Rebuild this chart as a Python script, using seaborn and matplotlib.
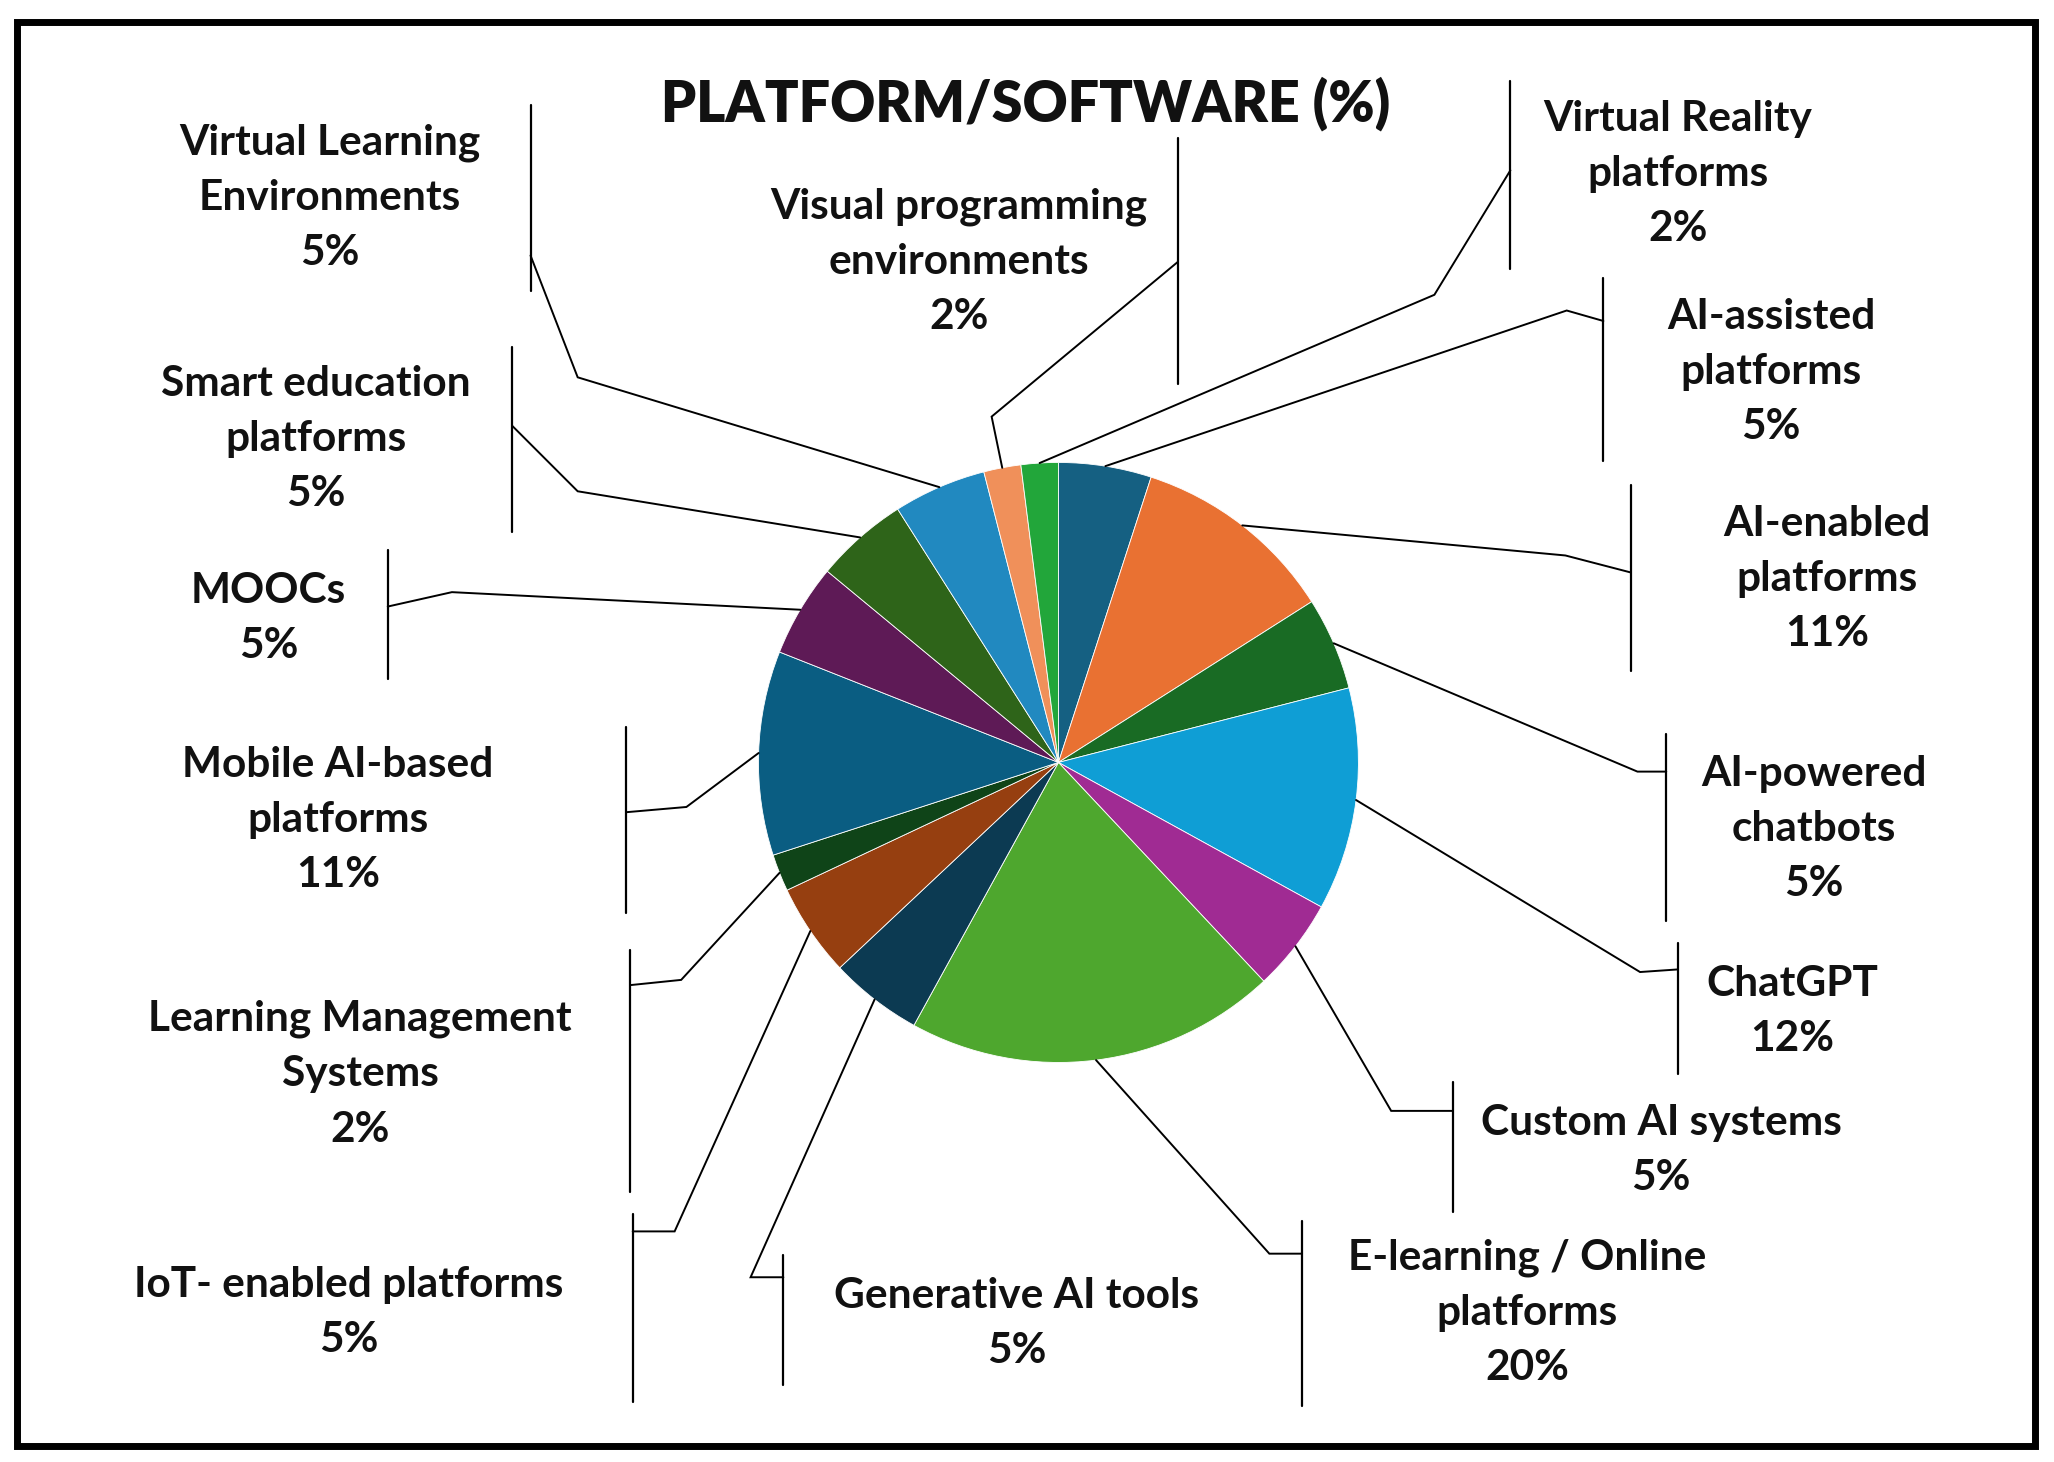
import matplotlib
matplotlib.use("Agg")
import matplotlib.pyplot as plt
import seaborn as sns
import numpy as np

# data, clockwise from 12 o'clock
platforms = ["AI-assisted platforms", "AI-enabled platforms", "AI-powered chatbots",
             "ChatGPT", "Custom AI systems", "E-learning / Online platforms",
             "Generative AI tools", "IoT- enabled platforms", "Learning Management Systems",
             "Mobile AI-based platforms", "MOOCs", "Smart education platforms",
             "Virtual Learning Environments", "Visual programming environments",
             "Virtual Reality platforms"]
shares = [5, 11, 5, 12, 5, 20, 5, 5, 2, 11, 5, 5, 5, 2, 2]
label_text = ["AI-assisted\nplatforms", "AI-enabled\nplatforms", "AI-powered\nchatbots",
              "ChatGPT", "Custom AI systems", "E-learning / Online\nplatforms",
              "Generative AI tools", "IoT- enabled platforms", "Learning Management\nSystems",
              "Mobile AI-based\nplatforms", "MOOCs", "Smart education\nplatforms",
              "Virtual Learning\nEnvironments", "Visual programming\nenvironments",
              "Virtual Reality\nplatforms"]
colors = ["#156082", "#E97132", "#196B24", "#0F9ED5", "#A02B93", "#4EA72E",
          "#0C3A52", "#963F10", "#0F4418", "#0A5D82", "#5E1A56", "#2E6419",
          "#2189C0", "#F0905A", "#22A63A"]
explode = [0.035 if s == 20 else 0 for s in shares]

# layout grid: pixels of a 1568x1116 preview (y grows downward)
W, H = 1568, 1116
CENTER, RADIUS = (808, 582), 229

# per label: text centre, bracket x, bracket y-range, elbow points of leader line
layout = [
    ((1352, 284), 1224, (212, 352), [(1196, 237), (1224, 245)]),
    ((1395, 442), 1245, (370, 512), [(1195, 424), (1245, 437)]),
    ((1385, 633), 1272, (560, 703), [(1250, 589), (1272, 589)]),
    ((1368, 772), 1281, (720, 820), [(1252, 742), (1281, 740)]),
    ((1268, 878), 1109, (826, 925), [(1062, 848), (1109, 848)]),
    ((1166, 1002), 994, (932, 1073), [(969, 957), (994, 957)]),
    ((776, 1010), 598, (958, 1057), [(573, 975), (598, 975)]),
    ((266, 1002), 483, (927, 1070), [(515, 940), (483, 940)]),
    ((275, 820), 481, (725, 910), [(520, 748), (481, 752)]),
    ((258, 626), 478, (555, 697), [(524, 616), (478, 620)]),
    ((205, 472), 296, (420, 518), [(345, 452), (296, 463)]),
    ((241, 335), 391, (265, 406), [(441, 375), (391, 325)]),
    ((252, 151), 405, (80, 222), [(441, 288), (405, 195)]),
    ((732, 200), 899, (105, 293), [(757, 318), (899, 200)]),
    ((1281, 133), 1153, (62, 205), [(1095, 225), (1153, 130)]),
]

sns.set_theme(style="white")
plt.rcParams['font.family'] = ['Lato', 'DejaVu Sans']

fig = plt.figure(figsize=(20.54, 14.62), dpi=100)
ax = fig.add_axes([0, 0, 1, 1])

# y axis is inverted below, so angle -90 points up and counterclock runs clockwise on screen
wedges, _ = ax.pie(shares, colors=colors, explode=explode, startangle=-90, counterclock=True,
                   center=CENTER, radius=RADIUS, frame=True,
                   wedgeprops=dict(edgecolor="white", linewidth=0.6))
ax.set_xlim(0, W)
ax.set_ylim(H, 0)
ax.set_aspect("equal")
ax.axis("off")

for name, val, txt, w, (pos, bx, (y0, y1), elbows) in zip(platforms, shares, label_text, wedges, layout):
    mid = np.deg2rad((w.theta1 + w.theta2) / 2)
    anchor = (w.center[0] + w.r * np.cos(mid), w.center[1] + w.r * np.sin(mid))
    pts = [anchor] + elbows
    ax.plot([p[0] for p in pts], [p[1] for p in pts], color="black", lw=1.4, solid_joinstyle="miter")
    ax.plot([bx, bx], [y0, y1], color="black", lw=1.6)
    ax.text(pos[0], pos[1], f"{txt}\n{val}%", ha="center", va="center", fontsize=30.5,
            fontweight="bold", linespacing=1.55, color="#111111")

ax.text(783, 79, "PLATFORM/SOFTWARE (%)", ha="center", va="center", fontsize=40,
        fontweight="heavy", color="#111111")

# outer frame
fig.patches.append(plt.Rectangle((16.5 / 2054, 1 - 1445.5 / 1462), (2035 - 16.5) / 2054, (1445.5 - 21.5) / 1462,
                                 transform=fig.transFigure, fill=False, edgecolor="black", lw=5))

fig.savefig("out.png", dpi=100, facecolor="white")
